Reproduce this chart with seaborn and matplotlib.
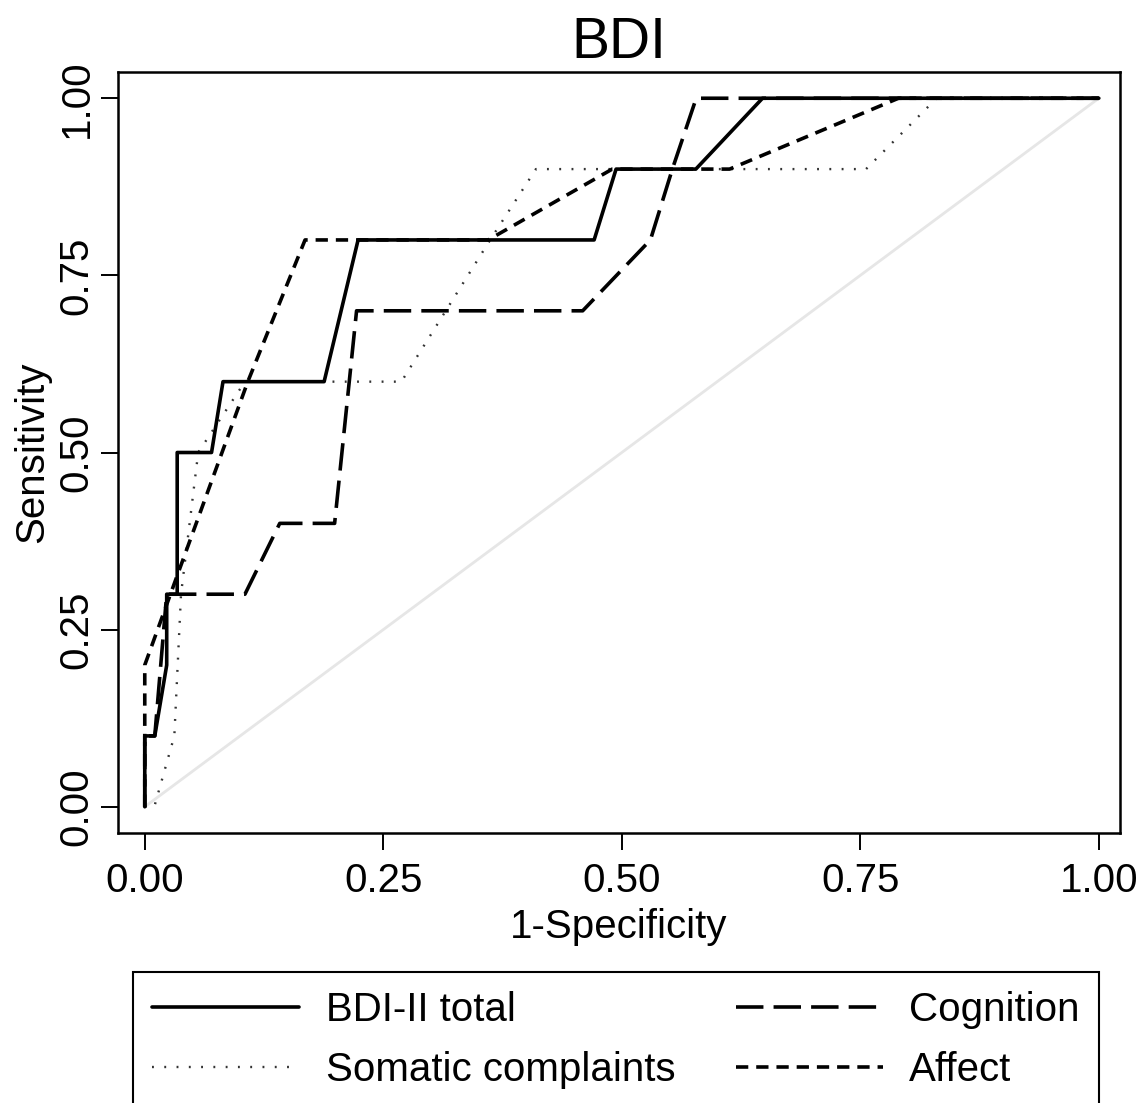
import matplotlib
matplotlib.use("Agg")
import matplotlib.pyplot as plt
from matplotlib.lines import Line2D
import seaborn as sns
import pandas as pd

# ---- data ----
total_x = [0, 0, 0.0105, 0.023, 0.023, 0.034, 0.034, 0.07, 0.082, 0.188, 0.2236, 0.471, 0.494, 0.5776, 0.6475, 1.0]
total_y = [0, 0.1, 0.1, 0.2, 0.3, 0.3, 0.5, 0.5, 0.6, 0.6, 0.8, 0.8, 0.9, 0.9, 1.0, 1.0]

cog_x = [0, 0, 0.0105, 0.023, 0.105, 0.1415, 0.199, 0.222, 0.459, 0.53, 0.553, 0.578, 1.0]
cog_y = [0, 0.1, 0.1, 0.3, 0.3, 0.4, 0.4, 0.7, 0.7, 0.8, 0.9, 1.0, 1.0]

som_x = [0, 0.01, 0.031, 0.038, 0.056, 0.105, 0.269, 0.362, 0.41, 0.756, 0.83, 1.0]
som_y = [0, 0.0, 0.1, 0.3, 0.5, 0.6, 0.6, 0.8, 0.9, 0.9, 1.0, 1.0]

aff_x = [0, 0, 0.035, 0.108, 0.168, 0.36, 0.49, 0.613, 0.79, 1.0]
aff_y = [0, 0.2, 0.33, 0.6, 0.8, 0.8, 0.9, 0.9, 1.0, 1.0]

ref_x = [0, 1]
ref_y = [0, 1]

ticks = [0.0, 0.25, 0.5, 0.75, 1.0]
tick_labels = ["0.00", "0.25", "0.50", "0.75", "1.00"]
series_names = ["BDI-II total", "Cognition", "Somatic complaints", "Affect"]

# ---- styles ----
styles = {
    "BDI-II total": dict(color="black", lw=2.6, ls="-"),
    "Cognition": dict(color="black", lw=2.6, ls=(0, (7.6, 2.8))),
    "Somatic complaints": dict(color="#333333", lw=1.7, ls=(0, (0.8, 4.4))),
    "Affect": dict(color="black", lw=2.6, ls=(0, (3.4, 2.2))),
}

sns.set_style("ticks")
plt.rcParams["font.family"] = ["Liberation Sans", "DejaVu Sans"]

FS = 29

fig = plt.figure(figsize=(11.45, 11.03), dpi=100)
ax = fig.add_axes([0.1031, 0.2448, 0.8749, 0.6899])

sns.lineplot(x=ref_x, y=ref_y, ax=ax, color="#e6e6e6", lw=2.0, sort=False, estimator=None)

data = {
    "BDI-II total": (total_x, total_y),
    "Cognition": (cog_x, cog_y),
    "Somatic complaints": (som_x, som_y),
    "Affect": (aff_x, aff_y),
}
for name in ["Somatic complaints", "Cognition", "Affect", "BDI-II total"]:
    xs, ys = data[name]
    df = pd.DataFrame({"x": xs, "y": ys})
    st = styles[name]
    sns.lineplot(data=df, x="x", y="y", ax=ax, sort=False, estimator=None,
                 color=st["color"], linewidth=st["lw"], linestyle=st["ls"])

ax.set_xlim(-0.028, 1.022)
ax.set_ylim(-0.037, 1.037)
ax.set_xticks(ticks)
ax.set_xticklabels(tick_labels)
ax.set_yticks(ticks)
ax.set_yticklabels(tick_labels, rotation=90, va="center")
ax.tick_params(axis="both", labelsize=FS, length=12, width=1.4, color="black",
               direction="out", labelcolor="black")
ax.tick_params(axis="x", pad=9)
ax.tick_params(axis="y", pad=4)
for sp in ax.spines.values():
    sp.set_visible(True)
    sp.set_color("black")
    sp.set_linewidth(1.8)

ax.set_xlabel("1-Specificity", fontsize=FS, labelpad=6, color="black")
ax.set_ylabel("Sensitivity", fontsize=FS, labelpad=5, color="black")
ax.set_title("BDI", fontsize=41, pad=10, color="black")

handles = []
for name in series_names:
    st = styles[name]
    handles.append(Line2D([0], [0], color=st["color"], lw=st["lw"], linestyle=st["ls"]))

order = ["BDI-II total", "Somatic complaints", "Cognition", "Affect"]
h_ord = [handles[series_names.index(n)] for n in order]
leg = fig.legend(h_ord, order, loc="upper left", bbox_to_anchor=(0.1162, 0.1188),
                 ncol=2, fontsize=FS, frameon=True, fancybox=False, framealpha=1,
                 edgecolor="black", handlelength=3.65, handletextpad=0.65,
                 columnspacing=1.5, labelspacing=0.55, borderpad=0.48,
                 borderaxespad=0, labelcolor="black")
leg.get_frame().set_linewidth(1.5)

fig.savefig("out.png", dpi=100)
